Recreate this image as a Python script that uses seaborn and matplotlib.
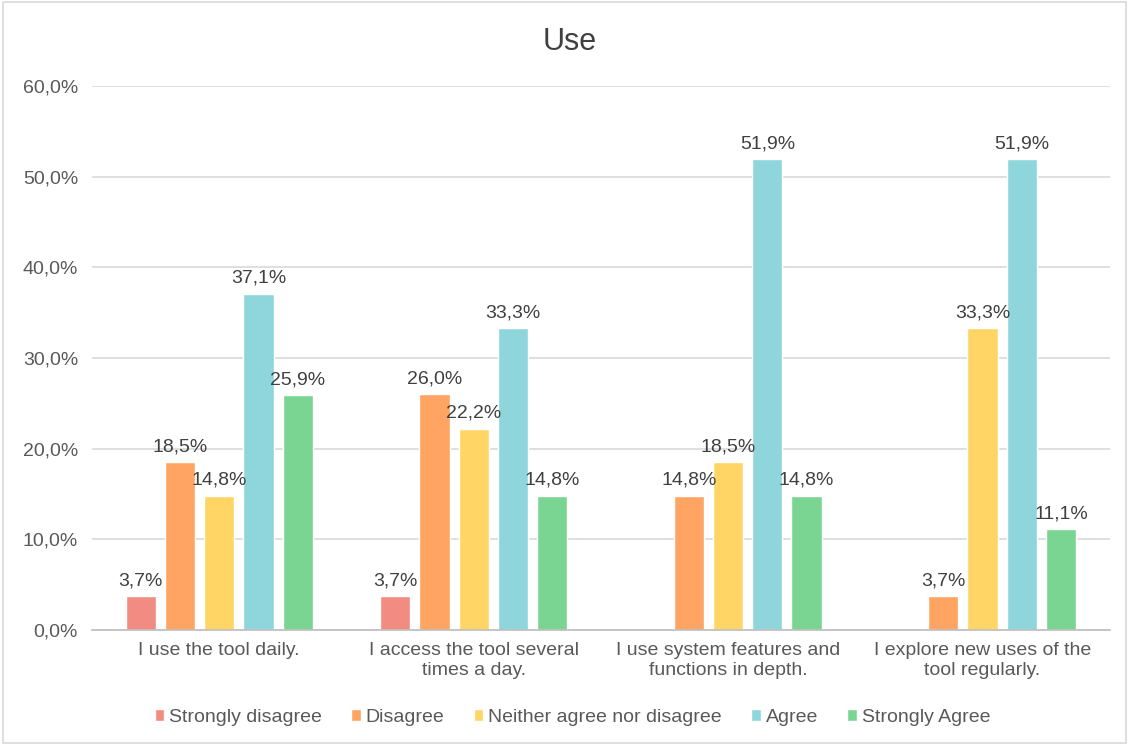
import matplotlib
matplotlib.use("Agg")
import matplotlib.pyplot as plt
import numpy as np
import pandas as pd
import seaborn as sns

# Dati del grafico
statements = ["I use the tool daily.",
              "I access the tool several\ntimes a day.",
              "I use system features and\nfunctions in depth.",
              "I explore new uses of the\ntool regularly."]
levels = ["Strongly disagree", "Disagree", "Neither agree nor disagree", "Agree", "Strongly Agree"]
strongly_disagree = [3.7, 3.7, np.nan, np.nan]
disagree = [18.5, 26.0, 14.8, 3.7]
neutral = [14.8, 22.2, 18.5, 33.3]
agree = [37.1, 33.3, 51.9, 51.9]
strongly_agree = [25.9, 14.8, 14.8, 11.1]

colors = ["#F28B82", "#FFA462", "#FFD666", "#8FD6DC", "#7BD592"]

rows = []
for lev, vals in zip(levels, [strongly_disagree, disagree, neutral, agree, strongly_agree]):
    for st, v in zip(statements, vals):
        rows.append({"statement": st, "level": lev, "value": v})
df = pd.DataFrame(rows)

sns.set_theme(style="white")
plt.rcParams['font.family'] = ['Liberation Sans', 'DejaVu Sans']

fig = plt.figure(figsize=(11.29, 7.45), dpi=100)
ax = fig.add_axes([0.0815, 0.1544, 0.9015, 0.7302])

sns.barplot(data=df, x="statement", y="value", hue="level", order=statements,
            hue_order=levels, palette=colors, width=0.77, gap=0.23, ax=ax,
            saturation=1, legend=True)

# Etichette sopra le barre
for cont in ax.containers:
    labels = []
    for p in cont:
        h = p.get_height()
        labels.append("" if np.isnan(h) else f"{h:.1f}".replace(".", ",") + "%")
    ax.bar_label(cont, labels=labels, padding=5, fontsize=14, color="#404040")

ax.set_ylim(0, 60)
ax.set_yticks(range(0, 61, 10))
ax.set_yticklabels([f"{t},0%" for t in range(0, 61, 10)])
ax.yaxis.grid(True, color="#D9D9D9", linewidth=1.2)
ax.set_axisbelow(True)
for s in ["top", "right", "left"]:
    ax.spines[s].set_visible(False)
ax.spines["bottom"].set_color("#BFBFBF")
ax.tick_params(axis="both", length=0, labelsize=14, colors="#595959", pad=9)
ax.tick_params(axis="y", pad=10)
ax.set_xlabel("")
ax.set_ylabel("")

fig.suptitle("Use", x=0.505, y=0.944, va="center", fontsize=22, color="#404040")

handles, labs = ax.get_legend_handles_labels()
ax.get_legend().remove()
fig.legend(handles, labs, loc="center", bbox_to_anchor=(0.507, 0.037), ncol=5,
           frameon=False, fontsize=14, handlelength=0.5, handleheight=0.5,
           handletextpad=0.25, columnspacing=1.5, labelcolor="#595959")

fig.patches.append(plt.Rectangle((0.003, 0.003), 0.994, 0.994, transform=fig.transFigure,
                                 fill=False, edgecolor="#D9D9D9", linewidth=1.2))

fig.savefig("out.png", dpi=100)
